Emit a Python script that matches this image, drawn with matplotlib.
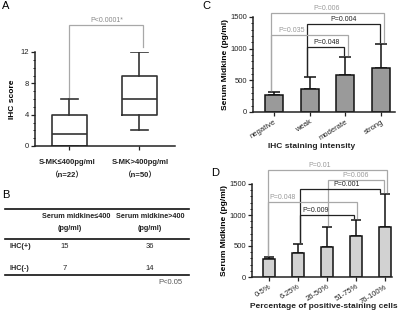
import matplotlib
matplotlib.use("Agg")
import matplotlib.pyplot as plt
from matplotlib.ticker import MultipleLocator

plt.rcParams['font.family'] = ['Liberation Sans', 'Noto Sans CJK SC', 'DejaVu Sans']

# ---------------- data ----------------
# Panel A (box plots)
a_groups = ["S-MK≤400pg/ml", "S-MK>400pg/ml"]
a_n = ["（n=22）", "（n=50）"]
a_whislo = [0, 2]
a_q1 = [0, 4]
a_med = [1.5, 6]
a_q3 = [4, 9]
a_whishi = [6, 12]
a_p = "P<0.0001*"

# Panel B (table)
b_cols = ["Serum midkine≤400\n(pg/ml)", "Serum midkine>400\n(pg/ml)"]
b_rows = ["IHC(+)", "IHC(-)"]
b_vals = [[15, 36], [7, 14]]
b_note = "P<0.05"

# Panel C
c_cats = ["negative", "weak", "moderate", "strong"]
c_mean = [265, 370, 580, 690]
c_err = [52, 175, 283, 380]
c_pairs = [(0, 3), (1, 3), (0, 2), (1, 2)]
c_pvals = ["P=0.006", "P=0.004", "P=0.035", "P=0.048"]

# Panel D
d_cats = ["0-5%", "6-25%", "26-50%", "51-75%", "76-100%"]
d_mean = [290, 390, 485, 665, 810]
d_err = [35, 145, 320, 255, 525]
d_pairs = [(0, 4), (2, 4), (1, 4), (0, 3), (1, 3)]
d_pvals = ["P=0.01", "P=0.006", "P=0.001", "P=0.048", "P=0.009"]

# ---------------- layout ----------------
W, H = 400, 318
fig = plt.figure(figsize=(W / 100, H / 100), dpi=100)


def add_ax(x0, y_top, x1, y_bot):
    return fig.add_axes([x0 / W, 1 - y_bot / H, (x1 - x0) / W, (y_bot - y_top) / H])


ov = fig.add_axes([0, 0, 1, 1])
ov.set_xlim(0, W)
ov.set_ylim(H, 0)
ov.axis('off')

DARK = '#222222'
GRAY = '#a8a8a8'
FS = 5.5


def style_axes(ax):
    for s in ['top', 'right']:
        ax.spines[s].set_visible(False)
    for s in ['left', 'bottom']:
        ax.spines[s].set_linewidth(1.1)
        ax.spines[s].set_color(DARK)
    ax.tick_params(axis='both', which='major', length=3, width=0.9, labelsize=FS,
                   colors=DARK, pad=1.5)
    ax.tick_params(axis='y', which='minor', length=1.6, width=0.7, colors=DARK)


def bracket(ax, x1, x2, h, b1, b2, color, lw=0.9):
    ax.plot([x1, x1, x2, x2], [b1, h, h, b2], color=color, lw=lw, clip_on=False,
            solid_joinstyle='miter')


# ---------------- Panel A ----------------
axA = add_ax(35, 52, 175, 146)
stats = []
for i in range(len(a_groups)):
    stats.append(dict(whislo=a_whislo[i], q1=a_q1[i], med=a_med[i], q3=a_q3[i],
                      whishi=a_whishi[i], fliers=[]))
axA.bxp(stats, positions=[1, 2], widths=0.5, showfliers=False,
        boxprops=dict(color='#333333', lw=1.2),
        medianprops=dict(color='#333333', lw=1.2),
        whiskerprops=dict(color='#333333', lw=1.2),
        capprops=dict(color='#333333', lw=1.2), capwidths=0.25)
axA.set_xlim(0.51, 2.51)
axA.set_ylim(0, 12)
axA.set_yticks([0, 4, 8, 12])
axA.yaxis.set_minor_locator(MultipleLocator(1))
axA.set_xticks([1, 2])
axA.set_xticklabels([])
style_axes(axA)
axA.set_ylabel("IHC score", fontsize=6, fontweight='bold', labelpad=3)
bracket(axA, 1, 2.05, 15.45, 6.3, 12.6, GRAY)
axA.text(1.54, 15.6, a_p, fontsize=5, color='#888888', ha='center', va='bottom')
for i, (g, n) in enumerate(zip(a_groups, a_n)):
    xpx = [67, 140][i]
    ov.text(xpx, 162, g, fontsize=5.5, fontweight='bold', ha='center', va='center', color=DARK)
    ov.text(xpx, 176, n, fontsize=5.5, fontweight='bold', ha='center', va='center', color=DARK)
ov.text(2, 6, "A", fontsize=8, ha='left', va='center')

# ---------------- Panel B (table) ----------------
ov.text(2, 195, "B", fontsize=8, ha='left', va='center')
ov.plot([5, 189], [209, 209], color='#111111', lw=1.2)
ov.plot([5, 189], [239, 239], color='#111111', lw=1.2)
ov.plot([5, 189], [275, 275], color='#111111', lw=1.2)
col_x = [70, 150]
for cx, c in zip(col_x, b_cols):
    top, bot = c.split("\n")
    ov.text(cx + 6 if cx < 100 else cx, 217, top, fontsize=5.2, fontweight='bold', ha='center',
            va='center', color=DARK)
    ov.text(cx, 228, bot, fontsize=5.2, fontweight='bold', ha='center', va='center', color=DARK)
row_y = [246, 268]
for ry, r, vals in zip(row_y, b_rows, b_vals):
    ov.text(9, ry, r, fontsize=5.2, fontweight='bold', ha='left', va='center', color=DARK)
    for cx, v in zip(col_x, vals):
        ov.text(cx - 5 if cx < 100 else cx, ry, str(v), fontsize=5.5, ha='center', va='center', color=DARK)
ov.text(170, 283, b_note, fontsize=5.5, ha='center', va='center', color='#555555')

# ---------------- Panel C ----------------
axC = add_ax(253, 17, 395, 112)
xc = list(range(len(c_cats)))
axC.bar(xc, c_mean, width=0.5, color='#9a9a9a', edgecolor='#111111', lw=1.1, zorder=2)
axC.errorbar(xc, c_mean, yerr=[[0] * len(c_err), c_err], fmt='none', ecolor='#111111',
             elinewidth=1.1, capsize=4, capthick=1.1, zorder=1)
axC.set_xlim(-0.59, 3.39)
axC.set_ylim(0, 1500)
axC.set_yticks([0, 500, 1000, 1500])
axC.yaxis.set_minor_locator(MultipleLocator(100))
axC.set_xticks(xc)
axC.set_xticklabels(c_cats, rotation=32, ha='right', rotation_mode='anchor', color='#444444')
style_axes(axC)
axC.set_ylabel("Serum Midkine (pg/ml)", fontsize=6, fontweight='bold', labelpad=1)
ov.text(312, 146, "IHC staining intensity", fontsize=6, fontweight='bold', ha='center',
        va='center', color=DARK)
ov.text(202, 6, "C", fontsize=8, ha='left', va='center')

c_h = [1563, 1390, 1216, 1026]
c_col = [GRAY, DARK, GRAY, DARK]
c_tx = [1.48, 1.96, 0.48, 1.46]
c_off = [(-0.08, 0.08), (-0.08, -0.03), (-0.08, 0.08), (-0.08, -0.03)]
tops_c = [m + e for m, e in zip(c_mean, c_err)]
for k, ((i, j), p) in enumerate(zip(c_pairs, c_pvals)):
    bracket(axC, i + c_off[k][0], j + c_off[k][1], c_h[k], tops_c[i] + 30, tops_c[j] + 30, c_col[k])
    axC.text(c_tx[k], c_h[k] + 15, p, fontsize=5, ha='center', va='bottom',
             color='#999999' if c_col[k] == GRAY else '#222222')

# ---------------- Panel D ----------------
axD = add_ax(252, 184, 392, 277)
xd = list(range(len(d_cats)))
axD.bar(xd, d_mean, width=0.43, color='#d2d2d2', edgecolor='#111111', lw=1.1, zorder=2)
axD.errorbar(xd, d_mean, yerr=[[0] * len(d_err), d_err], fmt='none', ecolor='#111111',
             elinewidth=1.1, capsize=3.5, capthick=1.1, zorder=1)
axD.set_xlim(-0.59, 4.24)
axD.set_ylim(0, 1500)
axD.set_yticks([0, 500, 1000, 1500])
axD.yaxis.set_minor_locator(MultipleLocator(100))
axD.set_xticks(xd)
axD.set_xticklabels(d_cats, rotation=32, ha='right', rotation_mode='anchor', color='#444444')
style_axes(axD)
axD.set_ylabel("Serum Midkine (pg/ml)", fontsize=6, fontweight='bold', labelpad=1)
ov.text(324, 306, "Percentage of positive-staining cells", fontsize=6, fontweight='bold',
        ha='center', va='center', color=DARK)
ov.text(211, 173, "D", fontsize=8, ha='left', va='center')

d_h = [1726, 1565, 1419, 1210, 1000]
d_col = [GRAY, GRAY, DARK, GRAY, DARK]
d_tx = [1.76, 3.0, 2.66, 0.48, 1.59]
d_off = [(-0.05, 0.07), (0.03, -0.05), (0.07, -0.17), (-0.05, 0.03), (0.07, -0.07)]
tops_d = [m + e for m, e in zip(d_mean, d_err)]
for k, ((i, j), p) in enumerate(zip(d_pairs, d_pvals)):
    bracket(axD, i + d_off[k][0], j + d_off[k][1], d_h[k], tops_d[i] + 30, tops_d[j] + 30, d_col[k])
    axD.text(d_tx[k], d_h[k] + 15, p, fontsize=5, ha='center', va='bottom',
             color='#999999' if d_col[k] == GRAY else '#222222')

fig.savefig("out.png", dpi=100)
